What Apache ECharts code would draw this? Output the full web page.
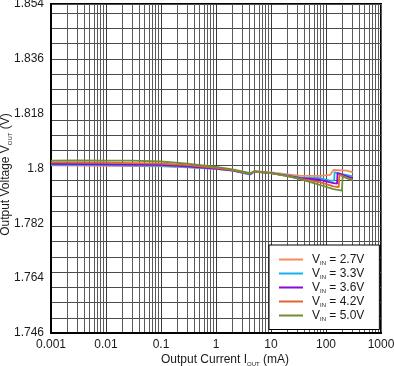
<!DOCTYPE html>
<html><head><meta charset="utf-8">
<script src="https://cdn.jsdelivr.net/npm/echarts@6/dist/echarts.min.js"></script>
<style>html,body{margin:0;padding:0;background:#fff}#c{width:394px;height:366px}</style>
</head><body><div id="c"></div>
<script>
// ---- data ----
const xTickLabels = ['0.001', '0.01', '0.1', '1', '10', '100', '1000'];
const yTickLabels = ['1.746', '1.764', '1.782', '1.8', '1.818', '1.836', '1.854'];
const vinLabels = ['2.7V', '3.3V', '3.6V', '4.2V', '5.0V'];
const seriesColors = ['#F7895F', '#12B2EE', '#8A0BD0', '#E2642E', '#6F8E37'];

const iout27 = [0.001, 0.01, 0.1, 0.3, 1, 2, 4.2, 5, 10, 20, 34, 77, 119, 137, 240, 306];
const vout27 = [1.8010, 1.8009, 1.8007, 1.8004, 1.7999, 1.7993, 1.7981, 1.7991, 1.7987, 1.7981, 1.7976, 1.7976, 1.7979, 1.7995, 1.7993, 1.7987];

const iout33 = [0.001, 0.01, 0.1, 0.3, 1, 2, 4.2, 5, 10, 20, 34, 77, 120, 141, 143, 306];
const vout33 = [1.8012, 1.8011, 1.8009, 1.8005, 1.7999, 1.7993, 1.7980, 1.7990, 1.7985, 1.7977, 1.7970, 1.7968, 1.7960, 1.7960, 1.7987, 1.7974];

const iout36 = [0.001, 0.01, 0.1, 0.3, 1, 2, 4.2, 5, 10, 20, 34, 77, 137, 159, 162, 306];
const vout36 = [1.8015, 1.8014, 1.8012, 1.8007, 1.8000, 1.7994, 1.7982, 1.7990, 1.7985, 1.7976, 1.7968, 1.7963, 1.7952, 1.7950, 1.7985, 1.7968];

const iout42 = [0.001, 0.01, 0.1, 0.3, 1, 2, 4.2, 5, 10, 20, 34, 77, 137, 170, 176, 306];
const vout42 = [1.8020, 1.8019, 1.8016, 1.8011, 1.8002, 1.7995, 1.7983, 1.7990, 1.7985, 1.7975, 1.7966, 1.7955, 1.7941, 1.7939, 1.7979, 1.7962];

const iout50 = [0.001, 0.003, 0.01, 0.03, 0.1, 0.3, 1, 2, 4.2, 5, 10, 20, 34, 77, 137, 195, 201, 306];
const vout50 = [1.8026, 1.8027, 1.8026, 1.8026, 1.8023, 1.8016, 1.8005, 1.7997, 1.7985, 1.7991, 1.7985, 1.7975, 1.7965, 1.7946, 1.7932, 1.7927, 1.7974, 1.7960];

const minorMultipliers = [2, 3, 4, 5, 6, 7, 8, 9];

// ---- chart ----
const FONT = 'Liberation Sans, Arial, sans-serif';
const TXT = '#1a1a1a';
const xs = [iout27, iout33, iout36, iout42, iout50];
const ys = [vout27, vout33, vout36, vout42, vout50];
const names = vinLabels.map(v => 'VIN = ' + v);

const series = names.map((n, i) => ({
  name: n,
  type: 'line',
  xAxisIndex: 0,
  yAxisIndex: 0,
  showSymbol: false,
  symbol: 'none',
  color: seriesColors[i],
  lineStyle: { width: 1.8, color: seriesColors[i] },
  data: xs[i].map((x, k) => [x, ys[i][k]]),
  z: 3 + i
}));

const hiddenX = minorMultipliers.map(m => ({
  type: 'log',
  logBase: 10,
  min: 0.01 / m,
  max: 0.01 / m * 1e6,
  gridIndex: 0,
  position: 'bottom',
  axisLine: { show: false },
  axisTick: { show: false },
  axisLabel: { show: false },
  splitLine: { show: true, lineStyle: { color: '#5a5a5a', width: 1 } }
}));

const option = {
  animation: false,
  backgroundColor: '#fff',
  grid: { left: 51, right: 13, top: 4, bottom: 33, containLabel: false, outerBoundsMode: 'none', show: true, borderColor: '#000', borderWidth: 2, backgroundColor: 'transparent' },
  legend: {
    orient: 'vertical',
    left: 269, top: 245,
    padding: [8.5, 15, 7.5, 10],
    itemGap: 1.5,
    itemWidth: 24, itemHeight: 2,
    icon: 'rect',
    backgroundColor: '#fff',
    borderColor: '#000',
    borderWidth: 1,
    data: names,
    formatter: n => '{v|V}{s|IN}{t| = ' + n.split('= ')[1] + '}',
    textStyle: {
      color: TXT, fontFamily: FONT, fontSize: 12,
      rich: {
        v: { fontSize: 12, fontFamily: FONT, color: TXT, padding: [0, 0, 0, 4], lineHeight: 13 },
        s: { fontSize: 6, fontFamily: FONT, color: TXT, verticalAlign: 'bottom', lineHeight: 8 },
        t: { fontSize: 12, fontFamily: FONT, color: TXT, lineHeight: 13 }
      }
    }
  },
  xAxis: [{
    type: 'log',
    logBase: 10,
    min: 0.001, max: 1000,
    name: '{a|Output Current I}{s|OUT}{a| (mA)}',
    nameLocation: 'middle',
    nameGap: 20,
    nameMoveOverlap: false,
    nameTextStyle: {
      color: TXT, fontFamily: FONT, fontSize: 12, padding: [0, 0, 0, 18],
      rich: {
        a: { fontSize: 12, fontFamily: FONT, color: TXT, lineHeight: 14 },
        s: { fontSize: 6, fontFamily: FONT, color: TXT, verticalAlign: 'bottom', lineHeight: 9 }
      }
    },
    axisLine: { show: true, lineStyle: { color: '#000', width: 2 } },
    axisTick: { show: false },
    axisLabel: {
      color: TXT, fontFamily: FONT, fontSize: 12, margin: 6,
      formatter: v => xTickLabels[Math.round(Math.log10(v)) + 3]
    },
    splitLine: { show: true, lineStyle: { color: '#3a3a3a', width: 1 } }
  }].concat(hiddenX),
  yAxis: [{
    type: 'value',
    min: 1.746, max: 1.854, interval: 0.018,
    name: '{a|Output Voltage V}{s|OUT}{a| (V)}',
    nameLocation: 'middle',
    nameGap: 38,
    nameMoveOverlap: false,
    nameTextStyle: {
      color: TXT, fontFamily: FONT, fontSize: 12, padding: [0, 12, 0, 0],
      rich: {
        a: { fontSize: 12, fontFamily: FONT, color: TXT, lineHeight: 14 },
        s: { fontSize: 6, fontFamily: FONT, color: TXT, verticalAlign: 'bottom', lineHeight: 9 }
      }
    },
    axisLine: { show: true, lineStyle: { color: '#000', width: 2 } },
    axisTick: { show: false },
    axisLabel: {
      color: TXT, fontFamily: FONT, fontSize: 12, margin: 7,
      formatter: v => yTickLabels[Math.round((v - 1.746) / 0.018)]
    },
    splitLine: { show: false }
  }, {
    type: 'value',
    min: 1.746, max: 1.854, interval: 0.005,
    position: 'left',
    axisLine: { show: false },
    axisTick: { show: false },
    axisLabel: { show: false },
    splitLine: { show: true, lineStyle: { color: '#4a4a4a', width: 1 } }
  }],
  series: series
};

const chart = echarts.init(document.getElementById('c'), null, { renderer: 'canvas' });
chart.setOption(option);
</script>
</body></html>
